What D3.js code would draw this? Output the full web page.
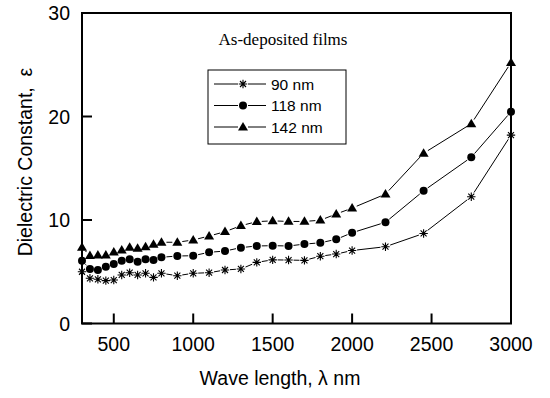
<!DOCTYPE html>
<html><head><meta charset="utf-8">
<script src="https://cdn.jsdelivr.net/npm/d3@7"></script>
<style>body{margin:0;background:#fff}svg{display:block}</style>
</head><body>
<svg id="c" width="550" height="398"></svg>
<script>
const wavelengths = [300,350,400,450,500,550,600,650,700,750,800,900,1000,1100,1200,1300,1400,1500,1600,1700,1800,1900,2000,2210,2450,2750,3000];
const eps90  = [5.0,4.37,4.27,4.14,4.2,4.69,4.91,4.69,4.85,4.46,4.85,4.62,4.85,4.91,5.17,5.27,5.91,6.15,6.13,6.1,6.5,6.71,7.05,7.42,8.7,12.25,18.2];
const eps118 = [6.07,5.27,5.17,5.49,5.75,6.07,6.2,5.97,6.2,6.13,6.4,6.52,6.55,6.88,7.0,7.33,7.49,7.52,7.49,7.67,7.8,8.13,8.77,9.78,12.82,16.06,20.46];
const eps142 = [7.36,6.55,6.6,6.6,6.9,7.1,7.36,7.26,7.4,7.65,7.85,7.85,8.07,8.45,8.87,9.45,9.84,9.92,9.86,9.86,9.98,10.58,11.15,12.5,16.45,19.3,25.2];
const seriesNames = ["90 nm","118 nm","142 nm"];
const xTicks = [500,1000,1500,2000,2500,3000];
const yTicks = [0,10,20,30];

const svg = d3.select("#c");
const L=82,R=511,T=13,B=323.5;
const x = d3.scaleLinear().domain([300,3000]).range([L,R]);
const y = d3.scaleLinear().domain([0,30]).range([B,T]);
const SANS="Liberation Sans, Arial, sans-serif";

function markerPath(kind, g, cx, cy){
  if(kind===0){
    const s=4.2, d=3.0;
    g.append("path").attr("d",`M${cx-s},${cy}H${cx+s}M${cx},${cy-s}V${cy+s}M${cx-d},${cy-d}L${cx+d},${cy+d}M${cx-d},${cy+d}L${cx+d},${cy-d}`)
      .attr("stroke","#000").attr("stroke-width",1.1).attr("fill","none");
  } else if(kind===1){
    g.append("circle").attr("cx",cx).attr("cy",cy).attr("r",4).attr("fill","#000");
  } else {
    const h=8.5,w=5;
    g.append("path").attr("d",`M${cx},${cy-h*0.6}L${cx+w},${cy+h*0.4}L${cx-w},${cy+h*0.4}Z`).attr("fill","#000");
  }
}

const series=[eps90,eps118,eps142];
const gap=5;
series.forEach((vals,k)=>{
  const g=svg.append("g");
  const pts=wavelengths.map((w,i)=>[x(w),y(vals[i])]);
  for(let i=0;i<pts.length-1;i++){
    const [x1,y1]=pts[i],[x2,y2]=pts[i+1];
    const dx=x2-x1,dy=y2-y1,len=Math.hypot(dx,dy);
    if(len>2*gap+0.5){
      const ux=dx/len,uy=dy/len;
      g.append("line").attr("x1",x1+ux*gap).attr("y1",y1+uy*gap).attr("x2",x2-ux*gap).attr("y2",y2-uy*gap)
        .attr("stroke","#000").attr("stroke-width",1);
    }
  }
  pts.forEach(p=>markerPath(k,g,p[0],p[1]));
});

// frame
svg.append("rect").attr("x",L).attr("y",T).attr("width",R-L).attr("height",B-T)
  .attr("fill","none").attr("stroke","#000").attr("stroke-width",2);
// ticks
const tickLen=10;
xTicks.forEach(t=>{
  svg.append("line").attr("x1",x(t)).attr("x2",x(t)).attr("y1",B).attr("y2",B-tickLen).attr("stroke","#000").attr("stroke-width",2);
  svg.append("text").attr("x",x(t)).attr("y",B+27).attr("text-anchor","middle")
    .attr("font-family",SANS).attr("font-size",19.5).text(t);
});
yTicks.forEach(t=>{
  svg.append("line").attr("x1",L).attr("x2",L+tickLen).attr("y1",y(t)).attr("y2",y(t)).attr("stroke","#000").attr("stroke-width",2);
  svg.append("text").attr("x",L-12).attr("y",y(t)+7).attr("text-anchor","end")
    .attr("font-family",SANS).attr("font-size",19.5).text(t);
});
svg.append("text").attr("x",280).attr("y",385).attr("text-anchor","middle")
  .attr("font-family",SANS).attr("font-size",19.5).text("Wave length, λ nm");
svg.append("text").attr("transform","translate(32,162) rotate(-90)").attr("text-anchor","middle")
  .attr("font-family",SANS).attr("font-size",19.5).attr("xml:space","preserve").text("Dielectric Constant,  ε");

// annotation
svg.append("text").attr("x",283).attr("y",45).attr("text-anchor","middle")
  .attr("font-family","Liberation Serif, Times New Roman, serif").attr("font-size",17).text("As-deposited films");

// legend
const lg=svg.append("g");
lg.append("rect").attr("x",208).attr("y",70).attr("width",138).attr("height",74).attr("fill","#fff").attr("stroke","#000").attr("stroke-width",1);
seriesNames.forEach((n,k)=>{
  const yy=84+k*21.5;
  lg.append("line").attr("x1",214).attr("x2",238).attr("y1",yy).attr("y2",yy).attr("stroke","#000");
  lg.append("line").attr("x1",248).attr("x2",266).attr("y1",yy).attr("y2",yy).attr("stroke","#000");
  markerPath(k,lg,243,yy);
  lg.append("text").attr("x",271).attr("y",yy+5.5).attr("font-family",SANS).attr("font-size",15.5).text(n);
});
</script>
</body></html>
